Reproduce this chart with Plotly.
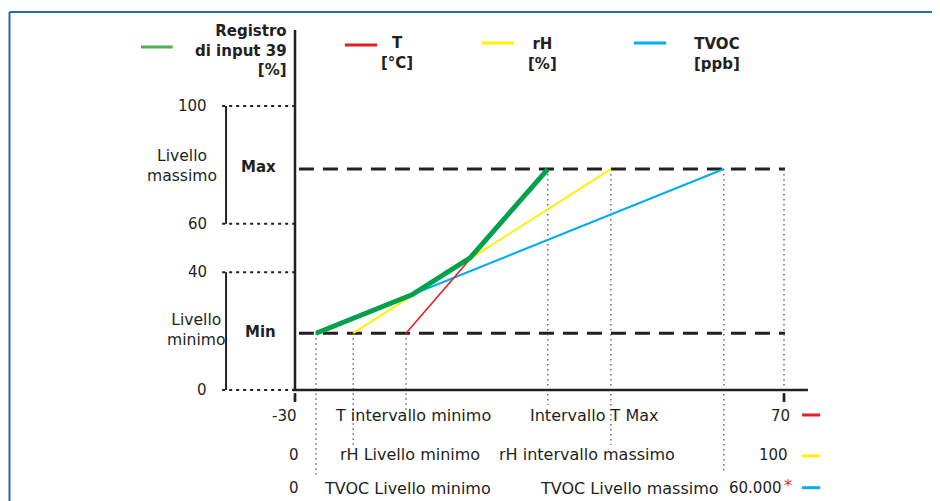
import plotly.graph_objects as go

# x: position along each sensor range (0 = -30 °C / 0 % / 0 ppb ; 100 = 70 °C / 100 % / 60.000 ppb)
# y: value of "Registro di input 39" (schematic %)
level_min = 20.0
level_max = 77.8

t_x = [22.7, 51.7]
t_y = [level_min, level_max]
rh_x = [11.9, 64.6]
rh_y = [level_min, level_max]
tvoc_x = [4.3, 87.7]
tvoc_y = [level_min, level_max]
reg_x = [4.3, 23.9, 35.8, 51.7]
reg_y = [20.0, 33.5, 46.5, 77.8]

y_tick_labels = ["0", "40", "60", "100"]
y_tick_pos = [0, 41.5, 58.5, 100]

row_T = ["-30", "T intervallo minimo", "Intervallo T Max", "70"]
row_rH = ["0", "rH Livello minimo", "rH intervallo massimo", "100"]
row_TVOC = ["0", "TVOC Livello minimo", "TVOC Livello massimo", "60.000"]

legend_names = ["Registro<br>di input 39<br>[%]", "T<br>[°C]", "rH<br>[%]", "TVOC<br>[ppb]"]

GREEN = "#00a14b"
GREEN_L = "#4cb050"
RED = "#e31e24"
YELLOW = "#fff200"
BLUE = "#00aeef"
DARK = "#231f20"
FONT = "DejaVu Sans"

# page body has an 8px margin, so the figure is drawn 8px smaller and shifted
W, H = 932, 493
X0PX, Y0PX = 287, 382      # pixel of (0, 0) inside the figure
SX, SY = 4.89, 2.84        # pixels per unit

fig = go.Figure()

# Min / Max dashed levels
for lvl in (level_max, level_min):
    fig.add_trace(go.Scatter(x=[0.8, 100.2], y=[lvl, lvl], mode="lines",
                             line=dict(color=DARK, width=3, dash="15px,9px"),
                             hoverinfo="skip", showlegend=False))

# vertical dotted drop lines from the end points
drops = [(tvoc_x[0], tvoc_y[0], -30.6), (rh_x[0], rh_y[0], -19.4), (t_x[0], t_y[0], -7.0),
         (t_x[1], t_y[1], -5.3), (rh_x[1], rh_y[1], -19.4), (tvoc_x[1], tvoc_y[1], -28.9),
         (100, level_max, 0)]
for xv, ytop, ybot in drops:
    fig.add_trace(go.Scatter(x=[xv, xv], y=[ytop, ybot], mode="lines",
                             line=dict(color="#555555", width=1.3, dash="1.5px,3.5px"),
                             hoverinfo="skip", showlegend=False))

# series
fig.add_trace(go.Scatter(x=tvoc_x, y=tvoc_y, mode="lines", line=dict(color=BLUE, width=2), showlegend=False))
fig.add_trace(go.Scatter(x=rh_x, y=rh_y, mode="lines", line=dict(color=YELLOW, width=2), showlegend=False))
fig.add_trace(go.Scatter(x=t_x, y=t_y, mode="lines", line=dict(color=RED, width=1.6), showlegend=False))
fig.add_trace(go.Scatter(x=reg_x, y=reg_y, mode="lines", line=dict(color=GREEN, width=5), showlegend=False))

shapes = []
# axes
shapes.append(dict(type="line", x0=0, x1=0, y0=0, y1=126.8, line=dict(color=DARK, width=2.5)))
shapes.append(dict(type="line", x0=-0.5, x1=104.9, y0=0, y1=0, line=dict(color=DARK, width=2.5)))
for xv in (0, 100):
    shapes.append(dict(type="line", x0=xv, x1=xv, y0=-1.1, y1=-4.2, line=dict(color=DARK, width=2.7)))
# y tick dotted lines and brackets
for yv in y_tick_pos:
    shapes.append(dict(type="line", x0=-14.9, x1=0, y0=yv, y1=yv,
                       line=dict(color=DARK, width=2, dash="3px,4px")))
for y0, y1 in ((y_tick_pos[0], y_tick_pos[1]), (y_tick_pos[2], y_tick_pos[3])):
    shapes.append(dict(type="line", x0=-14.1, x1=-14.1, y0=y0, y1=y1, line=dict(color=DARK, width=2)))
# legend swatches (top)
sw = [(-31.5, -25.0, 120.8, GREEN_L), (10.2, 16.8, 121.5, RED), (38.2, 44.8, 122.2, YELLOW), (69.3, 75.9, 122.2, BLUE)]
for x0, x1, yv, c in sw:
    shapes.append(dict(type="line", x0=x0, x1=x1, y0=yv, y1=yv, line=dict(color=c, width=3)))
# row swatches (bottom)
for yv, c in ((-8.8, RED), (-23.2, YELLOW), (-34.4, BLUE)):
    shapes.append(dict(type="line", x0=103.7, x1=107.4, y0=yv, y1=yv, line=dict(color=c, width=3)))
# frame (top and left edges)
fx, fy = 1.5 / W, 1 - 4 / H
shapes.append(dict(type="line", xref="paper", yref="paper", x0=fx, x1=1, y0=fy, y1=fy,
                   line=dict(color="#2a6aa8", width=2)))
shapes.append(dict(type="line", xref="paper", yref="paper", x0=fx, x1=fx, y0=0, y1=fy,
                   line=dict(color="#2a6aa8", width=2)))

ann = []
def txt(x, y, s, anchor="center", bold=False, size=15, color=DARK):
    ann.append(dict(x=x, y=y, text=(f"<b>{s}</b>" if bold else s), showarrow=False,
                    xanchor=anchor, yanchor="middle", align=anchor if anchor != "center" else "center",
                    font=dict(family=FONT, size=size, color=color)))

for lab, yv in zip(y_tick_labels, y_tick_pos):
    txt(-17.5, yv, lab, anchor="right")
txt(-23.1, 79.0, "Livello<br>massimo", size=15.6)
txt(-7.4, 78.5, "Max", bold=True)
txt(-20.2, 21.1, "Livello<br>minimo", size=15.6)
txt(-7.0, 20.4, "Min", bold=True)

# top legend labels
txt(-1.2, 119.7, legend_names[0], anchor="right", bold=True)
txt(20.9, 118.5, legend_names[1], bold=True)
txt(50.7, 118.3, legend_names[2], bold=True)
txt(86.3, 118.3, legend_names[3], bold=True)

# bottom rows
rows = [(row_T, -9.0, 7.8, 47.6, 101.6), (row_rH, -22.8, 8.8, 41.3, 101.2), (row_TVOC, -34.6, 5.5, 49.7, 100.1)]
for labels, yv, xmin, xmax, xend in rows:
    txt(1.2 if labels[0] != "-30" else 0.9, yv, labels[0], anchor="right")
    txt(xmin, yv, labels[1], anchor="left", size=16)
    txt(xmax, yv, labels[2], anchor="left", size=16)
    txt(xend, yv, labels[3], anchor="right")
# red asterisk next to 60.000
txt(99.5, -33.6, "*", anchor="left", color=RED, size=16)

fig.update_layout(
    width=W, height=H,
    margin=dict(l=0, r=0, t=0, b=0),
    paper_bgcolor="white", plot_bgcolor="white",
    xaxis=dict(range=[-X0PX / SX, (W - X0PX) / SX], visible=False, fixedrange=True),
    yaxis=dict(range=[(Y0PX - H) / SY, Y0PX / SY], visible=False, fixedrange=True),
    shapes=shapes, annotations=ann, showlegend=False,
)
fig.write_html("out.html")
